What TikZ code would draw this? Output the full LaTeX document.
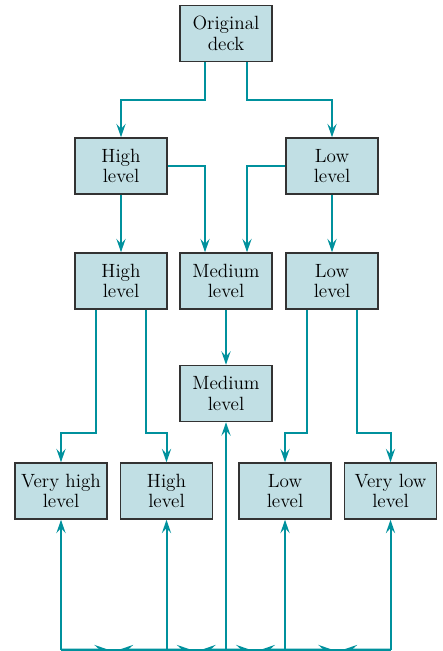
\documentclass[tikz,border=0pt]{standalone}
\usetikzlibrary{arrows.meta,calc,positioning}
\definecolor{flowc}{HTML}{00919D}
\definecolor{boxc}{HTML}{C1DFE4}
\begin{document}
\begin{tikzpicture}[x=0.6pt, y=-0.6pt,
    level/.style={draw=black!80, line width=0.9pt, fill=boxc, align=center,
      font=\fontsize{11.5}{12.4}\selectfont,
      minimum width=55.2pt, minimum height=33.6pt, inner sep=1pt},
    flow/.style={draw=flowc, line width=1.2pt, -{Stealth[length=8pt,width=5.5pt,inset=3pt]}},
    rail/.style={draw=flowc, line width=1.2pt}]
  \clip (0,0) rectangle (442,651);
  \node[level] (orig) at (226,33.5) {Original\\deck};
  \node[level] (hi2) at (121,166) {High\\level};
  \node[level] (lo2) at (332,166) {Low\\level};
  \node[level] (hi3) at (121,281) {High\\level};
  \node[level] (med3) at (226,281) {Medium\\level};
  \node[level] (lo3) at (332,281) {Low\\level};
  \node[level] (med4) at (226,393.5) {Medium\\level};
  \node[level] (vh) at (61,491) {Very high\\level};
  \node[level] (hi5) at (166.5,491) {High\\level};
  \node[level] (lo5) at (285,491) {Low\\level};
  \node[level] (vl) at (390.5,491) {Very low\\level};

  \draw[flow] ([xshift=-12.6pt]orig.south) |- (hi2 |- 0,100) -- (hi2);
  \draw[flow] ([xshift=12.6pt]orig.south) |- (lo2 |- 0,100) -- (lo2);
  \draw[flow] (hi2) -- (hi3);
  \draw[flow] (lo2) -- (lo3);
  \draw[flow] (hi2.east) -| ([xshift=-12.6pt]med3.north);
  \draw[flow] (lo2.west) -| ([xshift=12.6pt]med3.north);
  \draw[flow] (med3) -- (med4);
  \draw[flow] ([xshift=-15pt]hi3.south) |- (vh |- 0,433) -- (vh);
  \draw[flow] ([xshift=15pt]hi3.south) |- (hi5 |- 0,433) -- (hi5);
  \draw[flow] ([xshift=-15pt]lo3.south) |- (lo5 |- 0,433) -- (lo5);
  \draw[flow] ([xshift=15pt]lo3.south) |- (vl |- 0,433) -- (vl);

  \coordinate (bvh) at (vh |- 0,649.5);
  \coordinate (bhi) at (hi5 |- 0,649.5);
  \coordinate (bmed) at (med4 |- 0,649.5);
  \coordinate (blo) at (lo5 |- 0,649.5);
  \coordinate (bvl) at (vl |- 0,649.5);
  \draw[rail] (bvh) -- (bvl);
  \foreach \a/\b in {bvh/vh, bhi/hi5, bmed/med4, blo/lo5, bvl/vl}
    \draw[flow] (\a) -- (\b);
  \foreach \a/\b in {bvh/bhi, bhi/bmed, bmed/blo, blo/bvl} {
    \draw[flow] (\a) -- ($(\a)!0.5!(\b)+(-6,0)$);
    \draw[flow] (\b) -- ($(\a)!0.5!(\b)+(6,0)$);
  }
\end{tikzpicture}
\end{document}
